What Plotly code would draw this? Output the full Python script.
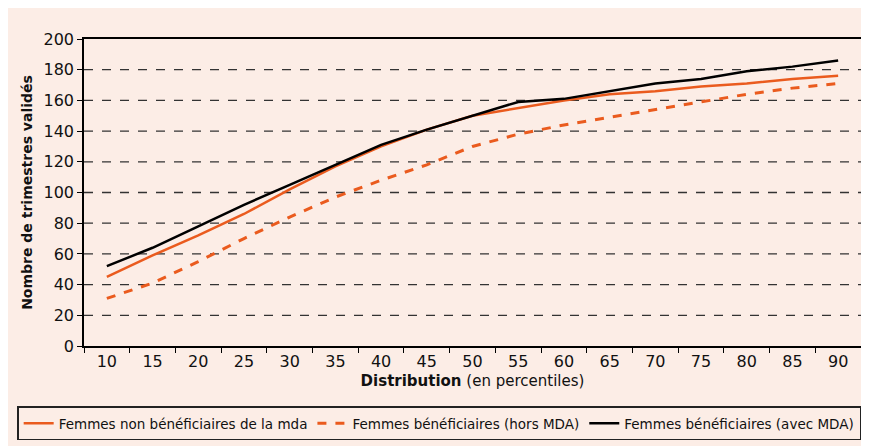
import plotly.graph_objects as go

# percentiles de la distribution
percentiles = ["10", "15", "20", "25", "30", "35", "40", "45", "50",
               "55", "60", "65", "70", "75", "80", "85", "90"]

# nombre de trimestres valides
non_benef = [45, 59, 72, 86, 102, 117, 130, 141, 150, 155, 160, 164, 166, 169, 171, 174, 176]
benef_hors_mda = [31, 41, 55, 70, 84, 97, 108, 118, 130, 138, 144, 149, 154, 159, 164, 168, 171]
benef_avec_mda = [52, 64, 78, 92, 105, 118, 131, 141, 150, 159, 161, 166, 171, 174, 179, 182, 186]

y_ticks = [0, 20, 40, 60, 80, 100, 120, 140, 160, 180, 200]

ORANGE = "#EA5B1E"
PINK = "#FCEDE6"
FONT = "DejaVu Sans"

fig = go.Figure()

fig.add_trace(go.Scatter(
    x=percentiles, y=non_benef, mode="lines",
    name="Femmes non bénéficiaires de la mda",
    line=dict(color=ORANGE, width=2.5)))

fig.add_trace(go.Scatter(
    x=percentiles, y=benef_hors_mda, mode="lines",
    name="Femmes bénéficiaires (hors MDA)",
    line=dict(color=ORANGE, width=3, dash="dash")))

fig.add_trace(go.Scatter(
    x=percentiles, y=benef_avec_mda, mode="lines",
    name="Femmes bénéficiaires (avec MDA)",
    line=dict(color="black", width=2.5)))

# dashed horizontal grid lines (the 200 one is the frame)
for v in y_ticks[1:-1]:
    fig.add_shape(type="line", xref="paper", yref="y", x0=0, x1=1, y0=v, y1=v,
                  line=dict(color="#333333", width=1.3, dash="dash"), layer="below")

# the page body adds an 8px margin, so the figure is a bit smaller than the window
fig.update_layout(
    width=861, height=438,
    margin=dict(l=76, r=6, t=31, b=98),
    paper_bgcolor=PINK, plot_bgcolor=PINK,
    font=dict(family=FONT, size=15, color="#111111"),
    showlegend=True,
    legend=dict(
        orientation="h", x=-0.086, y=-0.197, xanchor="left", yanchor="top",
        bgcolor=PINK, bordercolor="#222222", borderwidth=1.5,
        font=dict(family=FONT, size=13.5, color="#111111"),
        itemwidth=30, tracegroupgap=0,
    ),
)

fig.update_xaxes(
    type="category", tickson="boundaries", range=[-0.5, 16.5],
    ticks="outside", ticklen=5, tickcolor="black", tickwidth=1,
    showline=True, linecolor="black", linewidth=1.5, mirror=True,
    showgrid=False, zeroline=False,
    tickfont=dict(size=16),
    title=dict(text="<b>Distribution</b> (en percentiles)", font=dict(size=15), standoff=6),
)

fig.update_yaxes(
    range=[0, 200], tickvals=y_ticks,
    ticks="outside", ticklen=5, tickcolor="black", tickwidth=1,
    showline=True, linecolor="black", linewidth=1.5, mirror=True,
    showgrid=False, zeroline=False,
    tickfont=dict(size=16),
    title=dict(text="<b>Nombre de trimestres validés</b>", font=dict(size=14), standoff=8),
)

fig.write_html("out.html")
